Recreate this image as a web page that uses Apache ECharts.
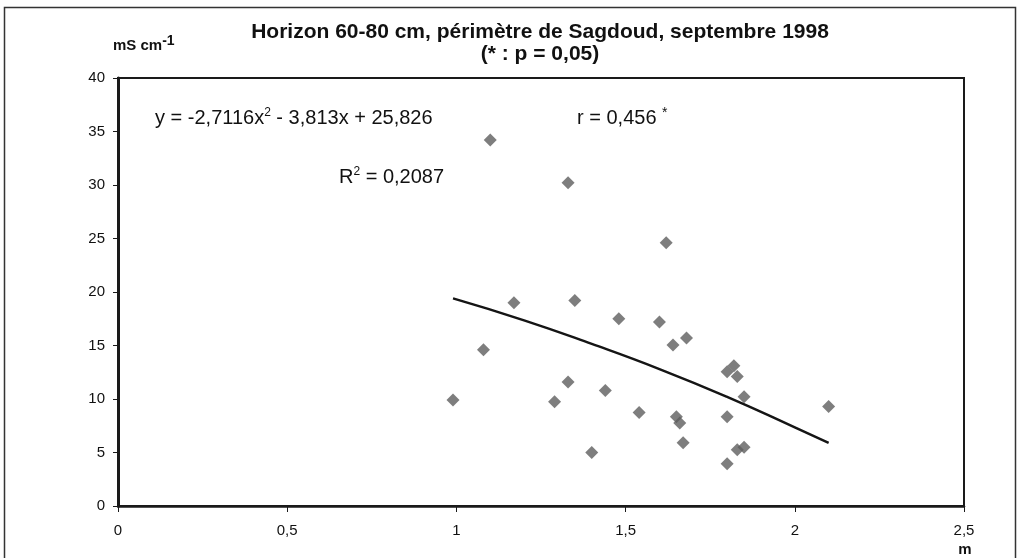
<!DOCTYPE html>
<html>
<head>
<meta charset="utf-8">
<script src="https://cdn.jsdelivr.net/npm/echarts@6/dist/echarts.min.js"></script>
<style>html,body{margin:0;padding:0;background:#fff}#c{width:1022px;height:558px}</style>
</head>
<body>
<div id="c"></div>
<script>
// Measured points: distance (m) vs conductivity (mS cm-1)
const xVals = [0.99, 1.08, 1.10, 1.17, 1.29, 1.33, 1.33, 1.35, 1.40, 1.44, 1.48, 1.54, 1.60, 1.62, 1.64, 1.68, 1.65, 1.66, 1.67, 1.80, 1.82, 1.83, 1.85, 1.80, 1.83, 1.85, 1.80, 2.10];
const yVals = [9.9, 14.6, 34.2, 19.0, 9.75, 11.6, 30.2, 19.2, 5.0, 10.8, 17.5, 8.75, 17.2, 24.6, 15.05, 15.7, 8.35, 7.75, 5.9, 12.55, 13.1, 12.1, 10.2, 8.35, 5.25, 5.5, 3.95, 9.3];
// Trend curve
const trendX = [0.99, 1.2, 1.4, 1.6, 1.8, 2.0, 2.1];
const trendY = [19.4, 17.35, 15.15, 12.8, 10.2, 7.35, 5.9];
const titleLines = ['Horizon 60-80 cm, périmètre de Sagdoud, septembre 1998', '(* : p = 0,05)'];
const xTickLabels = ['0', '0,5', '1', '1,5', '2', '2,5'];

const FONT = '"Liberation Sans", Arial, sans-serif';
const chart = echarts.init(document.getElementById('c'), null, {renderer: 'canvas'});
const pts = xVals.map((x, i) => [x, yVals[i]]);
const trend = trendX.map((x, i) => [x, trendY[i]]);

chart.setOption({
  backgroundColor: '#fff',
  animation: false,
  textStyle: {fontFamily: FONT},
  grid: {left: 118, right: 58, top: 78, bottom: 52, show: true, borderColor: '#1a1a1a', borderWidth: 2, backgroundColor: 'transparent'},
  xAxis: {
    type: 'value', min: 0, max: 2.5, interval: 0.5,
    axisLine: {show: true, onZero: false, lineStyle: {color: '#1a1a1a', width: 2.5}},
    axisTick: {show: true, inside: false, length: 6, lineStyle: {color: '#1a1a1a', width: 1}},
    splitLine: {show: false},
    axisLabel: {color: '#111', fontSize: 15, fontFamily: FONT, margin: 17,
      formatter: v => xTickLabels[Math.round(v / 0.5)]}
  },
  yAxis: {
    type: 'value', min: 0, max: 40, interval: 5,
    axisLine: {show: true, onZero: false, lineStyle: {color: '#1a1a1a', width: 3}},
    axisTick: {show: true, inside: false, length: 5, lineStyle: {color: '#1a1a1a', width: 1}},
    splitLine: {show: false},
    axisLabel: {color: '#111', fontSize: 15, fontFamily: FONT, margin: 13}
  },
  series: [
    {type: 'scatter', data: pts, symbol: 'diamond', symbolSize: 13,
     itemStyle: {color: '#5e5e5e'}, z: 3},
    {type: 'line', data: trend, smooth: true, showSymbol: false, symbol: 'none',
     lineStyle: {color: '#151515', width: 2.5}, z: 4}
  ],
  graphic: [
    {type: 'rect', shape: {x: 4.5, y: 7.5, width: 1011, height: 560}, style: {fill: 'none', stroke: '#333', lineWidth: 1.5}, silent: true},
    {type: 'text', x: 540, y: 32, style: {text: titleLines[0], fontFamily: FONT, fontWeight: 'bold', fontSize: 21, fill: '#111', align: 'center', verticalAlign: 'middle'}},
    {type: 'text', x: 540, y: 54, style: {text: titleLines[1], fontFamily: FONT, fontWeight: 'bold', fontSize: 21, fill: '#111', align: 'center', verticalAlign: 'middle'}},
    {type: 'text', x: 113, y: 46, style: {text: '{a|mS cm}{s|-1}', fontFamily: FONT, fill: '#111', align: 'left', verticalAlign: 'middle',
      rich: {a: {fontSize: 15, fontWeight: 'bold', fontFamily: FONT, fill: '#111', lineHeight: 22}, s: {fontSize: 14, fontWeight: 'bold', fontFamily: FONT, fill: '#111', lineHeight: 22, padding: [0,0,10,0]}}}},
    {type: 'text', x: 155, y: 118, style: {text: '{a|y = -2,7116x}{s|2}{a| - 3,813x + 25,826}', fontFamily: FONT, align: 'left', verticalAlign: 'middle',
      rich: {a: {fontSize: 20, fontFamily: FONT, fill: '#111', lineHeight: 26}, s: {fontSize: 12, fontFamily: FONT, fill: '#111', lineHeight: 26, padding: [0,0,10,0]}}}},
    {type: 'text', x: 339, y: 177, style: {text: '{a|R}{s|2}{a| = 0,2087}', fontFamily: FONT, align: 'left', verticalAlign: 'middle',
      rich: {a: {fontSize: 20, fontFamily: FONT, fill: '#111', lineHeight: 26}, s: {fontSize: 12, fontFamily: FONT, fill: '#111', lineHeight: 26, padding: [0,0,10,0]}}}},
    {type: 'text', x: 577, y: 118, style: {text: '{a|r = 0,456 }{s|*}', fontFamily: FONT, align: 'left', verticalAlign: 'middle',
      rich: {a: {fontSize: 20, fontFamily: FONT, fill: '#111', lineHeight: 26}, s: {fontSize: 14, fontFamily: FONT, fill: '#111', lineHeight: 26, padding: [0,0,10,0]}}}},
    {type: 'text', x: 965, y: 550, style: {text: 'm', fontFamily: FONT, fontWeight: 'bold', fontSize: 15, fill: '#111', align: 'center', verticalAlign: 'middle'}}
  ]
});
</script>
</body>
</html>
